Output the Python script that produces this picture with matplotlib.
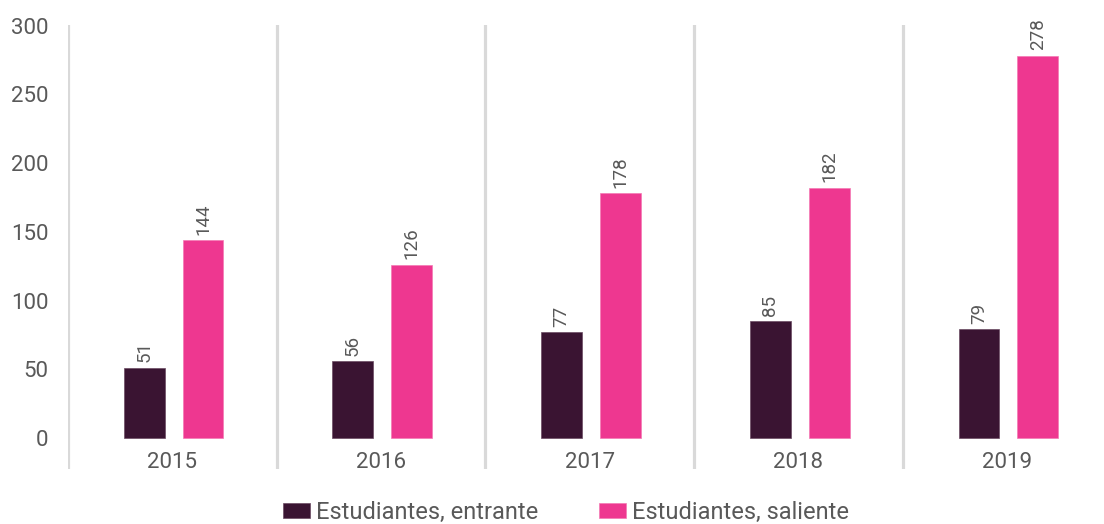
#!/usr/bin/env python3

import matplotlib
import matplotlib.pyplot as plt
import numpy as np

matplotlib.use('Agg')

years = ['2015', '2016', '2017', '2018', '2019']
entrante = [51, 56, 77, 85, 79]
saliente = [144, 126, 178, 182, 278]
series_names = ['Estudiantes, entrante', 'Estudiantes, saliente']

dark = '#3A1432'
pink = '#EE3790'
grey_text = '#595959'

plt.rcParams['font.family'] = ['Roboto', 'DejaVu Sans']

fig = plt.figure(figsize=(11.04, 5.24), dpi=100)
ax = fig.add_axes([68 / 1104, 55 / 524, 1043.5 / 1104, 444 / 524])

x = np.arange(len(years))
width = 0.196
b1 = ax.bar(x - 0.135, entrante, width, color=dark, edgecolor='#6a4a62', linewidth=0.5, label=series_names[0])
b2 = ax.bar(x + 0.147, saliente, width, color=pink, edgecolor='#f47ab4', linewidth=0.5, label=series_names[1])

for bars, vals in [(b1, entrante), (b2, saliente)]:
    for bar, v in zip(bars, vals):
        ax.annotate(str(v), (bar.get_x() + bar.get_width() / 2, v),
                    xytext=(0, 4), textcoords='offset points',
                    rotation=90, ha='center', va='bottom',
                    fontsize=13.5, color=grey_text)

# category separators
for b in np.arange(-0.5, len(years), 1.0):
    ax.axvline(b, color='#D9D9D9', linewidth=2.3, zorder=0)

ax.set_xlim(-0.5, len(years) - 0.5)
ax.set_ylim(-22.5, 300.5)
ax.set_yticks(np.arange(0, 301, 50))
ax.tick_params(axis='y', length=0, pad=14, labelsize=16, labelcolor=grey_text)
ax.set_xticks([])
for i, y in enumerate(years):
    ax.text(i, -18, y, ha='center', va='center', fontsize=16, color=grey_text)

for s in ax.spines.values():
    s.set_visible(False)

fig.legend(loc='center', bbox_to_anchor=(0.5127, 1 - 512 / 524), ncol=2, frameon=False,
           fontsize=17, handlelength=1.15, handleheight=0.6, handletextpad=0.25,
           columnspacing=2.55, labelcolor=grey_text)

plt.savefig('out.png', dpi=100)
